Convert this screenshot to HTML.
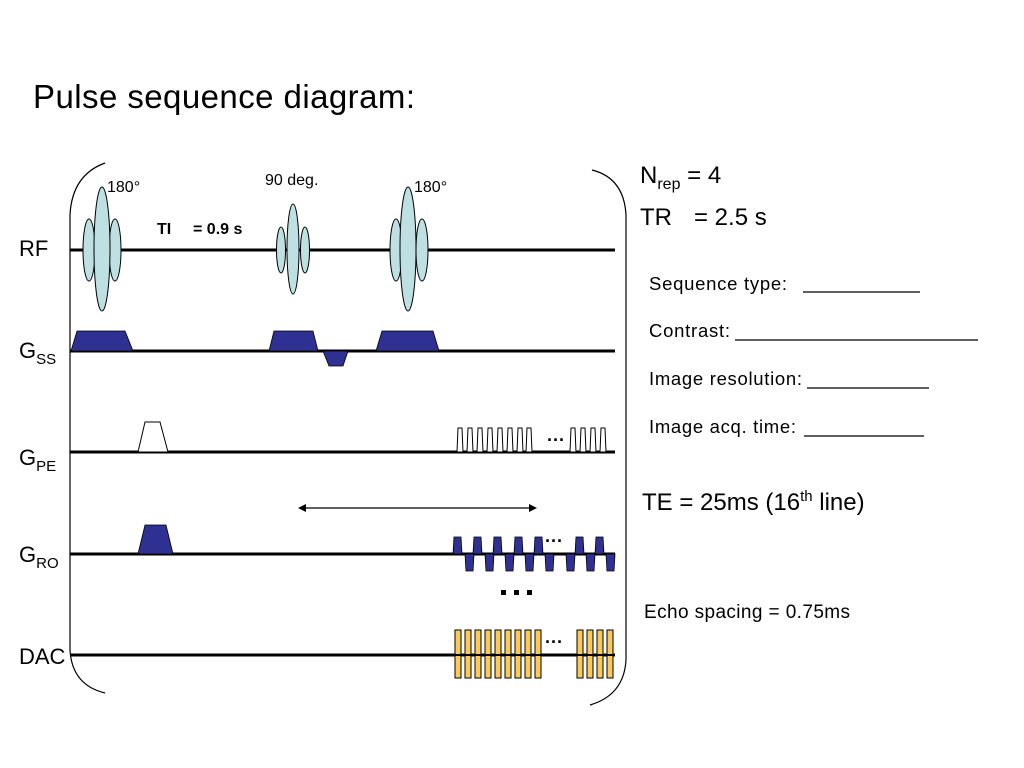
<!DOCTYPE html>
<html><head><meta charset="utf-8"><style>
body{margin:0;background:#fff}
svg{display:block}
text{font-family:"Liberation Sans",Arial,sans-serif;fill:#000}
</style></head><body>
<svg width="1024" height="768" viewBox="0 0 1024 768" xmlns="http://www.w3.org/2000/svg">
<text x="33" y="108" font-size="33" textLength="382">Pulse sequence diagram:</text>

<path d="M105,163 Q72,175 70,215 L70,650 Q72,685 105,693" fill="none" stroke="#000" stroke-width="1.2"/>
<path d="M592,170 Q624,178 626,215 L626,660 Q624,695 590,705" fill="none" stroke="#000" stroke-width="1.2"/>

<g stroke="#000" stroke-width="3">
<line x1="70" y1="250" x2="615" y2="250"/>
<line x1="70" y1="351" x2="615" y2="351"/>
<line x1="70" y1="452" x2="615" y2="452"/>
<line x1="70" y1="554" x2="615" y2="554"/>
<line x1="70" y1="655" x2="615" y2="655"/>
</g>

<text x="19" y="256" font-size="22">RF</text>
<text x="19" y="358" font-size="22">G<tspan font-size="15" dy="6">SS</tspan></text>
<text x="19" y="465" font-size="22">G<tspan font-size="15" dy="6">PE</tspan></text>
<text x="19" y="562" font-size="22">G<tspan font-size="15" dy="6">RO</tspan></text>
<text x="19" y="664" font-size="22">DAC</text>

<g fill="#bfe0e2" stroke="#000" stroke-width="1">
<ellipse cx="89" cy="250" rx="6" ry="31"/>
<ellipse cx="115" cy="250" rx="6" ry="31"/>
<ellipse cx="102" cy="249" rx="8" ry="62"/>
<ellipse cx="281" cy="250" rx="4.5" ry="23"/>
<ellipse cx="305" cy="250" rx="4.5" ry="23"/>
<ellipse cx="293" cy="249" rx="6" ry="45"/>
<ellipse cx="396" cy="250" rx="6" ry="31"/>
<ellipse cx="422" cy="250" rx="6" ry="31"/>
<ellipse cx="408" cy="249" rx="8" ry="62"/>
</g>
<text x="107" y="192" font-size="16">180°</text>
<text x="265" y="185" font-size="16">90 deg.</text>
<text x="414" y="192" font-size="16">180°</text>
<text x="157" y="234" font-size="16" font-weight="bold">TI</text>
<text x="193" y="234" font-size="16" font-weight="bold">= 0.9 s</text>

<g fill="#2e3192" stroke="#000" stroke-width="0.8">
<polygon points="71,351 77,331 125,331 133,351"/>
<polygon points="269,351 274,331 313,331 318,351"/>
<polygon points="323,351 348,351 343,366 329,366"/>
<polygon points="376,351 382,331 433,331 439,351"/>
</g>

<g fill="#fff" stroke="#000" stroke-width="1">
<polygon points="138,452 145,422 160,422 168,452"/>
<polygon points="457,452 458,428 462,428 463,452"/>
<polygon points="467,452 468,428 472,428 473,452"/>
<polygon points="477,452 478,428 482,428 483,452"/>
<polygon points="487,452 488,428 492,428 493,452"/>
<polygon points="497,452 498,428 502,428 503,452"/>
<polygon points="507,452 508,428 512,428 513,452"/>
<polygon points="517,452 518,428 522,428 523,452"/>
<polygon points="526,452 527,428 531,428 532,452"/>
<polygon points="570,452 571,428 575,428 576,452"/>
<polygon points="580,452 581,428 585,428 586,452"/>
<polygon points="590,452 591,428 595,428 596,452"/>
<polygon points="600,452 601,428 605,428 606,452"/>
</g>
<text x="547" y="446" font-size="18" font-weight="bold">···</text>

<line x1="304" y1="508" x2="531" y2="508" stroke="#000" stroke-width="1.3"/>
<polygon points="298,508 306,504 306,512" fill="#000"/>
<polygon points="537,508 529,504 529,512" fill="#000"/>

<g fill="#2e3192" stroke="#000" stroke-width="0.8">
<polygon points="138,554 145,525 166,525 173,554"/>
<polygon points="453,554 454,537 461,537 462,554"/>
<polygon points="473,554 474,537 481,537 482,554"/>
<polygon points="493,554 494,537 501,537 502,554"/>
<polygon points="514,554 515,537 522,537 523,554"/>
<polygon points="534,554 535,537 542,537 543,554"/>
<polygon points="465,554 474,554 473,571 466,571"/>
<polygon points="485,554 494,554 493,571 486,571"/>
<polygon points="505,554 514,554 513,571 506,571"/>
<polygon points="525,554 534,554 533,571 526,571"/>
<polygon points="545,554 554,554 553,571 546,571"/>
<polygon points="575,554 576,537 583,537 584,554"/>
<polygon points="595,554 596,537 603,537 604,554"/>
<polygon points="566,554 575,554 574,571 567,571"/>
<polygon points="586,554 595,554 594,571 587,571"/>
<polygon points="606,554 615,554 614,571 607,571"/>
</g>
<text x="545" y="547" font-size="18" font-weight="bold">···</text>
<g fill="#000">
<rect x="501" y="590" width="5" height="5"/>
<rect x="514" y="590" width="5" height="5"/>
<rect x="527" y="590" width="5" height="5"/>
</g>

<g fill="#fbc85a" stroke="#000" stroke-width="1">
<rect x="455" y="630" width="6" height="48"/>
<rect x="465" y="630" width="6" height="48"/>
<rect x="475" y="630" width="6" height="48"/>
<rect x="485" y="630" width="6" height="48"/>
<rect x="495" y="630" width="6" height="48"/>
<rect x="505" y="630" width="6" height="48"/>
<rect x="515" y="630" width="6" height="48"/>
<rect x="525" y="630" width="6" height="48"/>
<rect x="535" y="630" width="6" height="48"/>
<rect x="577" y="630" width="6" height="48"/>
<rect x="587" y="630" width="6" height="48"/>
<rect x="597" y="630" width="6" height="48"/>
<rect x="607" y="630" width="6" height="48"/>
</g>
<line x1="455" y1="655" x2="615" y2="655" stroke="#000" stroke-width="2"/>
<text x="545" y="648" font-size="18" font-weight="bold">···</text>

<text x="640" y="183" font-size="24">N<tspan font-size="16" dy="6">rep</tspan><tspan dy="-6"> = 4</tspan></text>
<text x="640" y="225" font-size="24">TR</text>
<text x="694" y="225" font-size="24">= 2.5 s</text>
<text x="649" y="290" font-size="18.5" textLength="138">Sequence type:</text>
<text x="649" y="337" font-size="18.5" textLength="81">Contrast:</text>
<text x="649" y="385" font-size="18.5" textLength="153">Image resolution:</text>
<text x="649" y="433" font-size="18.5" textLength="147">Image acq. time:</text>
<g stroke="#000" stroke-width="1.2">
<line x1="803" y1="292" x2="920" y2="292"/>
<line x1="735" y1="340" x2="978" y2="340"/>
<line x1="807" y1="388" x2="929" y2="388"/>
<line x1="804" y1="436" x2="924" y2="436"/>
</g>
<text x="642" y="510" font-size="24">TE = 25ms (16<tspan font-size="15" dy="-9">th</tspan><tspan dy="9"> line)</tspan></text>
<text x="644" y="618" font-size="19" textLength="206">Echo spacing = 0.75ms</text>
</svg>
</body></html>
